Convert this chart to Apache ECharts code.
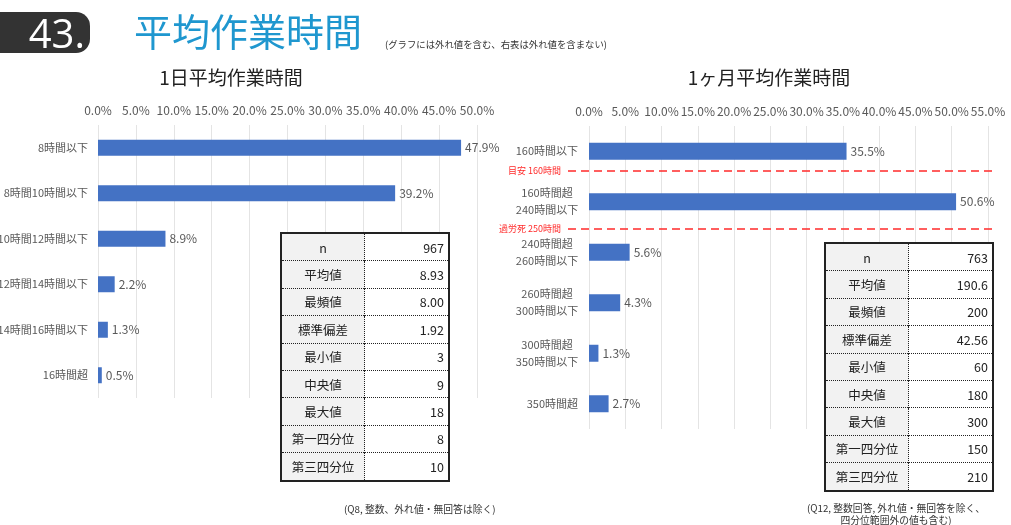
<!DOCTYPE html>
<html>
<head>
<meta charset="utf-8">
<script src="https://cdn.jsdelivr.net/npm/echarts@6/dist/echarts.min.js"></script>
<style>
  html, body { margin: 0; padding: 0; background: #fff; }
  #wrap { position: relative; width: 1011px; height: 525px; overflow: hidden;
          font-family: "Noto Sans CJK JP", "Noto Sans", sans-serif; }
  #chart { position: absolute; left: 0; top: 0; width: 1011px; height: 525px; }
  .badge { position: absolute; left: 0; top: 12px; width: 90px; height: 41px; background: #333;
           border-radius: 0 14px 14px 0; color: #fff; font-family: "Open Sans", sans-serif;
           font-size: 40px; line-height: 41px; text-align: right; padding-right: 5px; box-sizing: border-box; }
  .title { position: absolute; left: 134px; top: 6px; font-size: 38px; color: #1f97cf; line-height: 48px; }
  .sub { position: absolute; left: 385px; top: 37px; font-size: 9.4px; color: #333; }
  table.stat { position: absolute; border-collapse: collapse; border: 2px solid #222; font-size: 12.5px; color: #222; }
  table.stat td { height: 26.4px; padding: 0 4px; border-top: 1px dotted #222; }
  table.stat tr:first-child td { border-top: none; }
  table.stat td.k { background: #f2f2f2; text-align: center; border-right: 1px dotted #222; width: 74px; }
  table.stat td.v { background: #fff; text-align: right; width: 75px; }
  .note { position: absolute; font-size: 9.8px; color: #333; text-align: center; line-height: 12px; }
</style>
</head>
<body>
<div id="wrap">
  <div id="chart"></div>
  <div class="badge">43.</div>
  <div class="title">平均作業時間</div>
  <div class="sub">(グラフには外れ値を含む、右表は外れ値を含まない)</div>
  <table class="stat" id="tblDay" style="left:280px; top:232px;"></table>
  <table class="stat" id="tblMonth" style="left:824px; top:242px;"></table>
  <div class="note" style="left:344px; top:503px;">(Q8, 整数、外れ値・無回答は除く)</div>
  <div class="note" style="left:796px; top:502px; width:200px;">(Q12, 整数回答, 外れ値・無回答を除く、<br>四分位範囲外の値も含む)</div>
</div>
<script>
// 1日平均作業時間
var dayCats = ['8時間以下', '8時間10時間以下', '10時間12時間以下', '12時間14時間以下', '14時間16時間以下', '16時間超'];
var dayVals = [47.9, 39.2, 8.9, 2.2, 1.3, 0.5];
// 1ヶ月平均作業時間
var monthCats = ['160時間以下', '160時間超\n240時間以下', '240時間超\n260時間以下', '260時間超\n300時間以下', '300時間超\n350時間以下', '350時間超'];
var monthVals = [35.5, 50.6, 5.6, 4.3, 1.3, 2.7];
// 基準線 (category index position) and labels
var refLinePos = [0.89, 2.04];
var refLineNames = ['目安 160時間', '過労死 250時間'];

var statKeys = ['n', '平均値', '最頻値', '標準偏差', '最小値', '中央値', '最大値', '第一四分位', '第三四分位'];
var dayStats = ['967', '8.93', '8.00', '1.92', '3', '9', '18', '8', '10'];
var monthStats = ['763', '190.6', '200', '42.56', '60', '180', '300', '150', '210'];

function fillTable(id, vals) {
  var html = '';
  statKeys.forEach(function(k, i) {
    html += '<tr><td class="k">' + k + '</td><td class="v">' + vals[i] + '</td></tr>';
  });
  document.getElementById(id).innerHTML = html;
}
fillTable('tblDay', dayStats);
fillTable('tblMonth', monthStats);

var myChart = echarts.init(document.getElementById('chart'));
var font = '"Noto Sans CJK JP", "Noto Sans", sans-serif';
var gray = '#595959';

function valueAxis(gridIndex, max) {
  return {
    gridIndex: gridIndex,
    type: 'value',
    position: 'top',
    min: 0,
    max: max,
    interval: 5,
    axisLine: { show: false },
    axisTick: { show: false },
    axisLabel: {
      color: gray, fontSize: 12, fontFamily: font, margin: 9,
      formatter: function(v) { return v.toFixed(1) + '%'; }
    },
    splitLine: { lineStyle: { color: '#e4e4e4' } }
  };
}

function barSeries(idx, vals, width) {
  return {
    type: 'bar',
    xAxisIndex: idx,
    yAxisIndex: idx,
    data: vals,
    barWidth: width,
    itemStyle: { color: '#4472c4' },
    label: {
      show: true, position: 'right', distance: 4, color: gray, fontSize: 12, fontFamily: font,
      formatter: function(p) { return p.value.toFixed(1) + '%'; }
    },
    silent: true
  };
}

myChart.setOption({
  animation: false,
  textStyle: { fontFamily: font },
  title: [
    { text: '1日平均作業時間', left: 226, top: 63, textAlign: 'center',
      textStyle: { fontSize: 19, fontWeight: 'normal', color: '#222', fontFamily: font } },
    { text: '1ヶ月平均作業時間', left: 764, top: 63, textAlign: 'center',
      textStyle: { fontSize: 19, fontWeight: 'normal', color: '#222', fontFamily: font } }
  ],
  grid: [
    { left: 98, top: 125, width: 379, height: 273, outerBoundsMode: 'none' },
    { left: 589, top: 126, width: 399, height: 303, outerBoundsMode: 'none' },
    { left: 568, top: 126, width: 429, height: 303, outerBoundsMode: 'none' }
  ],
  xAxis: [
    valueAxis(0, 50),
    valueAxis(1, 55),
    { gridIndex: 2, type: 'value', min: 0, max: 1, show: false }
  ],
  yAxis: [
    {
      gridIndex: 0, type: 'category', data: dayCats, inverse: true,
      axisLine: { show: false }, axisTick: { show: false },
      axisLabel: { color: gray, fontSize: 11, fontFamily: font, margin: 10 }
    },
    {
      gridIndex: 1, type: 'category', data: monthCats, inverse: true,
      axisLine: { show: false }, axisTick: { show: false },
      axisLabel: {
        color: gray, fontSize: 11, fontFamily: font, margin: 11, lineHeight: 17,
        formatter: function(v) {
          if (v.indexOf('\n') < 0) return v;
          return v.split('\n').map(function(s) { return '{c|' + s + '}'; }).join('\n');
        },
        rich: { c: { width: 62, align: 'center', fontSize: 11, color: gray, fontFamily: font, lineHeight: 17 } }
      }
    },
    { gridIndex: 2, type: 'value', min: 0, max: 6, inverse: true, show: false }
  ],
  series: [
    barSeries(0, dayVals, 16),
    barSeries(1, monthVals, 17),
    {
      type: 'line',
      xAxisIndex: 2,
      yAxisIndex: 2,
      data: [],
      clip: false,
      markLine: {
        silent: true,
        symbol: 'none',
        lineStyle: { color: '#ff2a2a', type: [8, 5], width: 1.5 },
        label: {
          position: 'start', distance: 7, color: '#ff2a2a', fontSize: 9, fontFamily: font,
          formatter: function(p) { return p.name; }
        },
        data: refLinePos.map(function(v, i) { return { yAxis: v, name: refLineNames[i] }; })
      }
    }
  ]
});
</script>
</body>
</html>
